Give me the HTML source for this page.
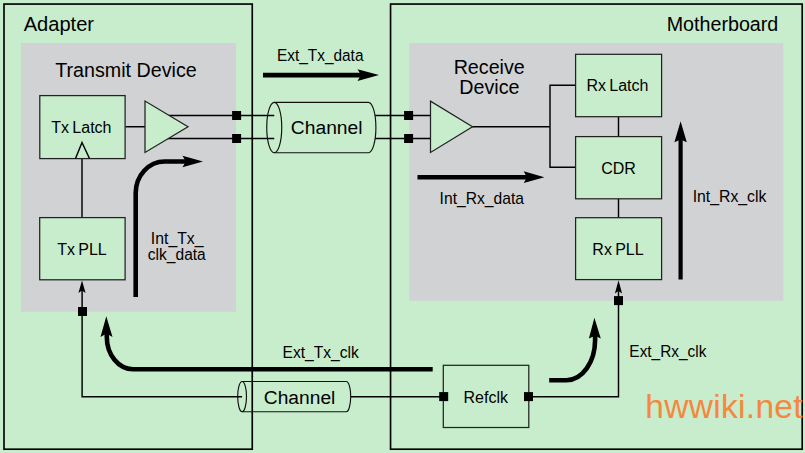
<!DOCTYPE html>
<html>
<head>
<meta charset="utf-8">
<title>Diagram</title>
<style>
html,body{margin:0;padding:0;background:#c7edcc;}
body{width:805px;height:453px;overflow:hidden;}
svg{display:block;}
text{font-family:"Liberation Sans",sans-serif;fill:#000;}
.t20{font-size:19.7px;}
.t16{font-size:15.5px;}
.t16b{font-size:16px;word-spacing:-1.2px;}
.box{fill:#c7edcc;stroke:#222;stroke-width:1.25;}
.ln{fill:none;stroke:#000;stroke-width:1.45;}
.thick{fill:none;stroke:#000;stroke-width:4.6;}
.cyl{fill:none;stroke:#111;stroke-width:1.15;}
.sq{fill:#000;}
.hd{fill:#000;}
</style>
</head>
<body>
<svg width="805" height="453" viewBox="0 0 805 453">
<rect x="0" y="0" width="805" height="453" fill="#c7edcc"/>
<!-- outer boxes -->
<rect x="4" y="4.05" width="248.25" height="445.15" fill="none" stroke="#000" stroke-width="1.65"/>
<rect x="390.55" y="4.05" width="411.65" height="445.15" fill="none" stroke="#000" stroke-width="1.65"/>
<!-- gray panels -->
<rect x="21" y="43" width="215" height="268.7" fill="#d1d2d4"/>
<rect x="409.3" y="43" width="374" height="257.7" fill="#d1d2d4"/>

<!-- thin connection lines -->
<path class="ln" d="M125.5 126.75H146"/>
<path class="ln" d="M165 115.5H274.25M165 138.5H274.25"/>
<path class="ln" d="M375 115.5H431M375 138.5H431"/>
<path class="ln" d="M472 126.8H550M550 85.3V167.2M549.3 85.3H576M549.3 167.2H576"/>
<path class="ln" d="M618.5 116.5V137M618.5 198.5V218"/>
<path class="ln" d="M82 158.5V218"/>
<path class="ln" d="M82.1 290V396.8H242.1"/>
<path class="ln" d="M350.7 396.8H443"/>
<path class="ln" d="M529 396.8H618.5V290"/>

<!-- boxes -->
<rect class="box" x="39.8" y="95.6" width="85.3" height="63"/>
<rect class="box" x="39.7" y="217.6" width="85.4" height="62.2"/>
<rect class="box" x="575.6" y="54.3" width="86" height="62.4"/>
<rect class="box" x="575.6" y="136.6" width="86" height="62.2"/>
<rect class="box" x="575.6" y="217.7" width="86" height="61.9"/>
<rect class="box" x="443.3" y="365.3" width="85.5" height="62.2"/>
<!-- clock triangle -->
<path class="ln" d="M75.5 158.5L82 142.5L89.5 158.5"/>
<!-- amplifiers -->
<path class="box" d="M145 101V152.5L188 126.75Z"/>
<path class="box" d="M430.5 101.2V152.5L472.5 126.8Z"/>

<!-- cylinders -->
<path class="cyl" d="M274.25 102.3H368.4A7.5 25.2 0 0 1 368.4 152.7H274.25"/>
<ellipse class="cyl" cx="274.25" cy="127.5" rx="7.5" ry="25.2"/>
<path class="cyl" d="M242.1 381.5H346.3A4.4 15.1 0 0 1 346.3 411.7H242.1"/>
<ellipse class="cyl" cx="242.1" cy="396.6" rx="4.4" ry="15.1"/>

<!-- squares -->
<rect class="sq" x="232.1" y="111" width="9" height="9"/>
<rect class="sq" x="232.1" y="134" width="9" height="9"/>
<rect class="sq" x="404.1" y="111" width="9" height="9"/>
<rect class="sq" x="404.1" y="134" width="9" height="9"/>
<rect class="sq" x="78" y="307" width="9" height="9"/>
<rect class="sq" x="614" y="296.1" width="9" height="9"/>
<rect class="sq" x="439.2" y="392.1" width="9" height="9"/>
<rect class="sq" x="524" y="392.1" width="9" height="9"/>

<!-- small arrow heads -->
<path class="hd" d="M82 280.5L85.6 293L82 290.5L78.4 293Z"/>
<path class="hd" d="M618.5 280.2L622.1 293.5L618.5 291L614.9 293.5Z"/>

<!-- thick arrows -->
<path class="thick" d="M263 75.1H365"/>
<path class="hd" d="M379 75.1L357.5 69.3L361 75.1L357.5 80.9Z"/>
<path class="thick" d="M417.5 177.2H531"/>
<path class="hd" d="M544.4 177.2L523.7 171.3L526.9 177.2L523.7 183.1Z"/>
<path class="thick" style="stroke-width:4.2" d="M680.6 279.5V136"/>
<path class="hd" d="M680.6 121.3L674.4 142.3L680.6 139.4L686.8 142.3Z"/>
<path class="thick" d="M135.7 297V193A29 31.5 0 0 1 164.7 161.5H190"/>
<path class="hd" d="M203 161.5L182.5 155.7L185.8 161.5L182.5 167.3Z"/>
<path class="thick" d="M432.7 369.2H133A26.2 32.2 0 0 1 106.8 337V333"/>
<path class="hd" d="M106.3 316.2L100.5 336.9L106.6 333.6L112.5 336.9Z"/>
<path class="thick" d="M549.2 380.2H566.5A28.6 40.2 0 0 0 595.1 340V335"/>
<path class="hd" d="M594.4 317.8L588.9 338.5L595 335.8L600.8 338.5Z"/>

<!-- labels -->
<text class="t20" x="23.7" y="30.5" style="font-size:20.1px">Adapter</text>
<text class="t20" x="722.5" y="30.5" text-anchor="middle">Motherboard</text>
<text class="t20" x="126" y="77" text-anchor="middle">Transmit Device</text>
<text class="t20" x="489.2" y="73.8" text-anchor="middle">Receive</text>
<text class="t20" x="489.4" y="93.8" text-anchor="middle">Device</text>
<text class="t20" x="326.7" y="133.9" text-anchor="middle" style="font-size:19.25px">Channel</text>
<text class="t20" x="299.6" y="404" text-anchor="middle" style="font-size:19.2px">Channel</text>
<text class="t16b" x="81.4" y="133.3" text-anchor="middle">Tx Latch</text>
<text class="t16b" x="82" y="255" text-anchor="middle">Tx PLL</text>
<text class="t16b" x="617.5" y="90.8" text-anchor="middle">Rx Latch</text>
<text class="t16b" x="618.5" y="173.8" text-anchor="middle">CDR</text>
<text class="t16b" x="618" y="255" text-anchor="middle">Rx PLL</text>
<text class="t16b" x="485.8" y="402.5" text-anchor="middle">Refclk</text>
<text class="t16" transform="translate(320.2 61) scale(0.97 1)" text-anchor="middle" style="font-size:15.9px">Ext_Tx_data</text>
<text class="t16" x="177.2" y="243.8" text-anchor="middle" style="font-size:15.8px">Int_Tx_</text>
<text class="t16" transform="translate(176.8 260.3) scale(0.985 1)" text-anchor="middle" style="font-size:15.8px">clk_data</text>
<text class="t16" transform="translate(481.8 203.8) scale(0.985 1)" text-anchor="middle" style="font-size:15.9px">Int_Rx_data</text>
<text class="t16" x="729.5" y="201.9" text-anchor="middle" style="font-size:15.8px">Int_Rx_clk</text>
<text class="t16" transform="translate(320.7 357.5) scale(0.98 1)" text-anchor="middle" style="font-size:15.9px">Ext_Tx_clk</text>
<text class="t16" transform="translate(667.9 357) scale(0.97 1)" text-anchor="middle" style="font-size:15.9px">Ext_Rx_clk</text>
<text x="645.2" y="417.6" style="font-size:33.5px;fill:#f5883e;letter-spacing:0.32px;">hwwiki.net</text>
</svg>
</body>
</html>
